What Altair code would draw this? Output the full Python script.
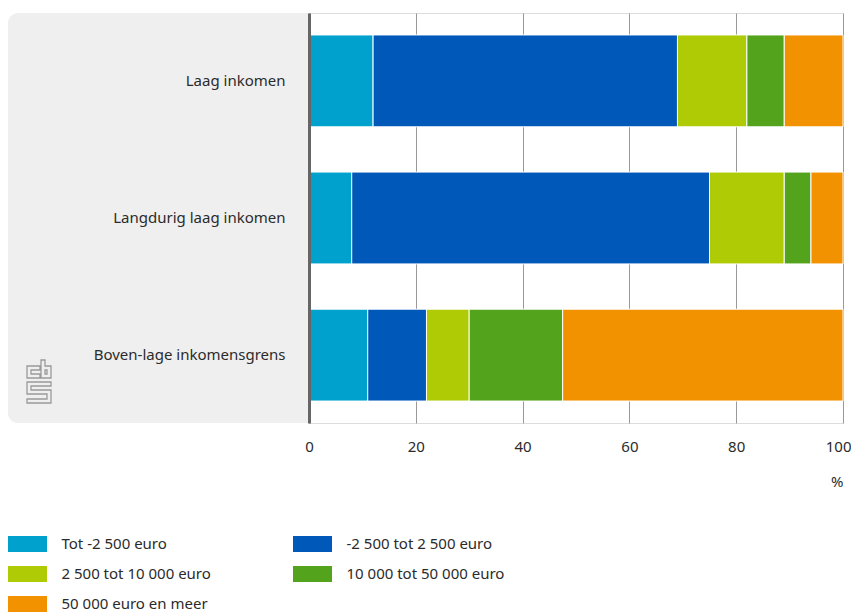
import altair as alt
import pandas as pd

groups = ["Laag inkomen", "Langdurig laag inkomen", "Boven-lage inkomensgrens"]
classes = [
    "Tot -2 500 euro",
    "-2 500 tot 2 500 euro",
    "2 500 tot 10 000 euro",
    "10 000 tot 50 000 euro",
    "50 000 euro en meer",
]
colors = ["#00a1cd", "#0058b8", "#afcb05", "#53a31d", "#f39200"]
laag = [12, 57, 13, 7, 11]
langdurig = [8, 67, 14, 5, 6]
boven = [11, 11, 8, 17.5, 52.5]
ticks = [0, 20, 40, 60, 80, 100]

rows = []
for g, vals in zip(groups, [laag, langdurig, boven]):
    for i, (c, v) in enumerate(zip(classes, vals)):
        rows.append({"groep": g, "klasse": c, "waarde": v, "volgorde": i})
df = pd.DataFrame(rows)

FONT = "Noto Sans"
W, H = 534, 410

# cbs logo outline (decorative), polygons in a 24 x 43 box
logo_polys = [
    [(13, 6), (0, 6), (0, 18), (13, 18), (13, 14), (4, 14), (4, 10), (13, 10)],
    [(14, 0), (18, 0), (18, 6), (24, 6), (24, 18), (14, 18)],
    [(18, 10), (20, 10), (20, 14), (18, 14)],
    [(0, 22), (24, 22), (24, 26), (4, 26), (4, 30), (24, 30), (24, 43),
     (0, 43), (0, 39), (20, 39), (20, 34), (0, 34)],
]
def logo_path(polys, cx=12.0, cy=21.5, s=21.5):
    parts = []
    for poly in polys:
        pts = [f"{(x - cx) / s:.4f},{(y - cy) / s:.4f}" for x, y in poly]
        parts.append("M" + "L".join(pts) + "Z")
    return "".join(parts)

panel = alt.Chart(pd.DataFrame({"a": [0]})).mark_rect(
    color="#efefef", cornerRadiusTopLeft=10, cornerRadiusBottomLeft=10, clip=False
).encode(x=alt.value(-301), x2=alt.value(0), y=alt.value(0), y2=alt.value(H))

logo = alt.Chart(pd.DataFrame({"a": [0]})).mark_point(
    shape=logo_path(logo_polys), size=43 * 43, filled=False,
    stroke="#9a9a9a", strokeWidth=1.3, opacity=1, clip=False,
).encode(x=alt.value(-270), y=alt.value(368.5))

bars = alt.Chart(df).mark_bar(stroke="white", strokeWidth=1).encode(
    y=alt.Y(
        "groep:N",
        sort=groups,
        title=None,
        scale=alt.Scale(paddingInner=0.33, paddingOuter=0.16),
        axis=alt.Axis(
            ticks=False,
            domainColor="#666666",
            domainWidth=3,
            labelFont=FONT,
            labelFontSize=15,
            labelColor="#2b2b2b",
            labelPadding=24,
            labelLimit=300,
            zindex=1,
        ),
    ),
    x=alt.X(
        "waarde:Q",
        stack="zero",
        title="%",
        scale=alt.Scale(domain=[0, 100], nice=False),
        axis=alt.Axis(
            values=ticks,
            domain=False,
            ticks=False,
            grid=True,
            gridColor="#999999",
            gridWidth=1,
            labelFont=FONT,
            labelFontSize=15,
            labelColor="#2b2b2b",
            labelPadding=16,
            labelFlush=False,
            labelAlign=alt.condition("datum.value == 100", alt.value("right"), alt.value("center")),
            labelOffset=alt.condition("datum.value == 100", alt.value(8), alt.value(0)),
            titleFont=FONT,
            titleFontSize=15,
            titleFontWeight="normal",
            titleColor="#2b2b2b",
            titleAnchor="end",
            titleAlign="right",
            titlePadding=20,
        ),
    ),
    color=alt.Color(
        "klasse:N",
        sort=classes,
        scale=alt.Scale(domain=classes, range=colors),
        legend=alt.Legend(
            title=None,
            orient="none",
            direction="horizontal",
            legendX=-289.5,
            legendY=523,
            columns=2,
            columnPadding=81,
            rowPadding=14,
            symbolType="M-2.4375,-1H2.4375V1H-2.4375Z",
            symbolSize=256,
            symbolStrokeWidth=0,
            symbolOpacity=1,
            labelFont=FONT,
            labelFontSize=15,
            labelColor="#2b2b2b",
            labelOffset=26,
            labelLimit=300,
        ),
    ),
    order=alt.Order("volgorde:Q"),
)

chart = alt.layer(panel, logo, bars).properties(
    width=W,
    height=H,
    padding={"left": 0, "top": 5, "right": 0, "bottom": 0},
).configure_view(stroke=None).configure(background="white")

chart.save("out.html", embed_options={"renderer": "svg", "actions": False})
